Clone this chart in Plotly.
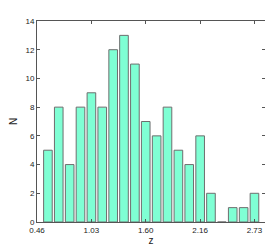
import plotly.graph_objects as go

bin_centers = [0.574, 0.687, 0.801, 0.914, 1.028, 1.141, 1.255, 1.368, 1.482, 1.595,
               1.709, 1.822, 1.936, 2.049, 2.163, 2.276, 2.390, 2.503, 2.617, 2.730]
counts = [5, 8, 4, 8, 9, 8, 12, 13, 11, 7, 6, 8, 5, 4, 6, 2, 0, 1, 1, 2]
x_tick_vals = [0.46, 1.0275, 1.595, 2.1625, 2.73]
x_tick_text = ["0.46", "1.03", "1.60", "2.16", "2.73"]
y_tick_vals = [0, 2, 4, 6, 8, 10, 12, 14]

fig = go.Figure(go.Bar(
    x=bin_centers, y=counts, width=0.09,
    marker=dict(color="#7FFFD4", line=dict(color="#6e6e6e", width=1)),
))

axis_common = dict(showline=True, mirror="ticks", linecolor="#555555", linewidth=1,
                   ticks="inside", ticklen=3, tickcolor="#555555", showgrid=False,
                   zeroline=False,
                   tickfont=dict(family="Liberation Sans, Arial", size=8, color="#222222"))

fig.update_layout(
    width=273, height=248,
    margin=dict(l=29, r=16, t=12, b=27),
    plot_bgcolor="white", paper_bgcolor="white",
    showlegend=False,
    xaxis=dict(range=[0.46, 2.84], tickvals=x_tick_vals, ticktext=x_tick_text,
               title=dict(text="z", font=dict(family="Liberation Sans, Arial", size=10, color="#222222"), standoff=2),
               **axis_common),
    yaxis=dict(range=[0, 14], tickvals=y_tick_vals, automargin=False,
               title=dict(text="N", font=dict(family="Liberation Sans, Arial", size=10, color="#222222"), standoff=12),
               **axis_common),
)

fig.write_html("out.html")
